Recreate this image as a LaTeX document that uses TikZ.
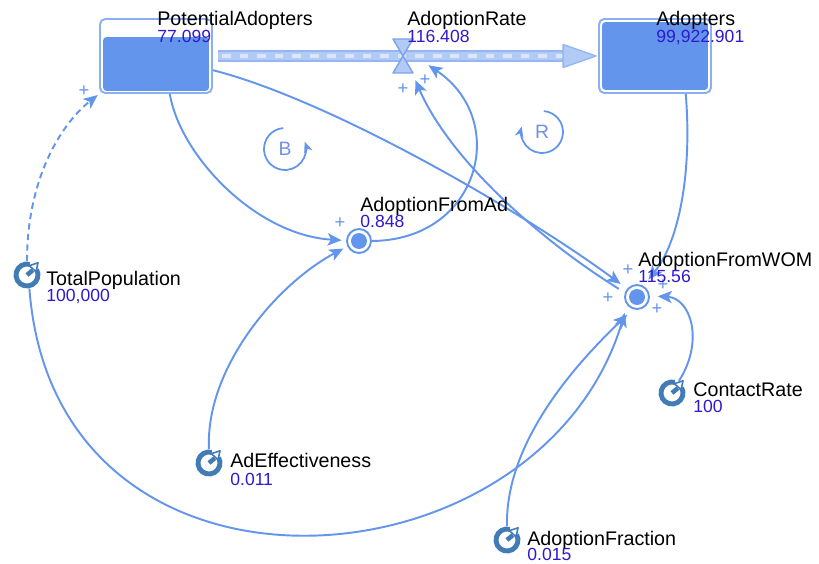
\documentclass[tikz,border=0pt]{standalone}
\usepackage{fontspec}
\setmainfont{Liberation Sans}
\usetikzlibrary{arrows.meta,positioning,calc}
\definecolor{linkblue}{RGB}{100,149,237}
\definecolor{stockedge}{RGB}{140,175,242}
\definecolor{pipeedge}{RGB}{150,182,240}
\definecolor{pipefill}{RGB}{178,202,246}
\definecolor{pipedash}{RGB}{220,230,251}
\definecolor{valveedge}{RGB}{125,160,235}
\definecolor{gaugeblue}{RGB}{66,124,182}
\definecolor{valblue}{RGB}{48,24,208}
\definecolor{loopblue}{RGB}{110,145,230}

% constant marker: open ring with a pointer
\newcommand{\gaugeicon}[1]{%
  \draw[gaugeblue, line width=2.8pt] ([shift={(75:0.22cm)}]#1.center) arc[start angle=75, end angle=390, radius=0.22cm];
  \draw[gaugeblue, line width=2.6pt] (#1.center) -- ([shift={(40:0.15cm)}]#1.center);
  \filldraw[fill=white, draw=gaugeblue, line width=0.9pt, line join=round]
    ($(#1.center)+(48:0.33cm)$) -- ($(#1.center)+(48:0.17cm)+(138:0.09cm)$) -- ($(#1.center)+(48:0.17cm)+(-42:0.09cm)$) -- cycle;
}

\begin{document}
\begin{tikzpicture}[x=0.02cm, y=-0.02cm,
  varname/.style={anchor=base west, inner sep=0pt, font=\fontsize{11.2}{12}\selectfont},
  varvalue/.style={anchor=base west, inner sep=0pt, text=valblue, font=\fontsize{10}{11}\selectfont},
  stockbox/.style={rectangle, draw=stockedge, line width=1.1pt, rounded corners=3pt, minimum width=2.24cm, minimum height=1.48cm, inner sep=0pt},
  auxvar/.style={circle, draw=linkblue, line width=1.1pt, minimum size=0.48cm, inner sep=0pt,
    path picture={\fill[linkblue] (path picture bounding box.center) circle[radius=0.16cm];}},
  constmark/.style={circle, minimum size=0.54cm, inner sep=0pt},
  linkarrow/.style={draw=linkblue, line width=1.1pt, -{Stealth[length=8pt,width=7pt,inset=2pt]}},
  polarity/.style={text=linkblue, inner sep=0pt, font=\fontsize{10.5}{10.5}\selectfont},
  loopsym/.style={text=loopblue, inner sep=0pt, font=\fontsize{11}{11}\selectfont},
  loopline/.style={draw=linkblue, line width=1pt, -{Stealth[length=6pt,width=5pt]}}
]
  \useasboundingbox (0,0) rectangle (819,564);

  % stocks
  \node[stockbox] (pot) at (156,56) {};
  \fill[linkblue, rounded corners=2pt] ([shift={(4,-3)}]pot.south west) rectangle ([shift={(-4,19)}]pot.north east);

  \node[stockbox] (adopters) at (655,56) {};
  \fill[linkblue, rounded corners=2pt] ([shift={(4,-4)}]adopters.south west) rectangle ([shift={(-4,4)}]adopters.north east);

  % flow pipe and valve
  \node[circle, minimum size=1.07cm, inner sep=0pt] (rate) at (403,56) {};
  \draw[pipeedge, line width=6.8pt] ([shift={(5,0)}]pot.east) -- ([shift={(-34,0)}]adopters.west);
  \draw[pipefill, line width=4.6pt] ([shift={(5,0)}]pot.east) -- ([shift={(-34,0)}]adopters.west);
  \draw[pipedash, line width=2.2pt, dash pattern=on 5pt off 5pt] ([shift={(9,0)}]pot.east) -- ([shift={(-34,0)}]adopters.west);
  \filldraw[fill=pipefill, draw=pipeedge, line width=0.8pt, line join=round]
    ([shift={(-35,-11.5)}]adopters.west) -- ([shift={(-2,0)}]adopters.west) -- ([shift={(-35,11.5)}]adopters.west) -- cycle;
  \filldraw[fill=pipefill, draw=valveedge, line width=0.8pt, line join=round]
    ([shift={(-10,-17)}]rate.center) -- ([shift={(10,-17)}]rate.center) -- ([shift={(-10,17)}]rate.center) -- ([shift={(10,17)}]rate.center) -- cycle;

  % variables
  \node[auxvar] (fromad) at (359,241) {};
  \node[auxvar] (fromwom) at (637,297) {};

  \node[constmark] (totpop) at (27,275) {};
  \node[constmark] (adeff) at (209,463) {};
  \node[constmark] (adfrac) at (507,540) {};
  \node[constmark] (contact) at (672,393) {};
  \gaugeicon{totpop}
  \gaugeicon{adeff}
  \gaugeicon{adfrac}
  \gaugeicon{contact}

  % links
  \draw[linkarrow, dash pattern=on 3.6pt off 2.4pt, shorten >=1pt] (totpop.north) .. controls (27,180) and (60,125) .. (pot.south west);
  \draw[linkarrow, shorten >=2.5pt] (pot.-70) .. controls (180,155) and (255,235) .. (fromad.178);
  \draw[linkarrow, shorten >=2.5pt] (adeff.north) .. controls (205,370) and (275,285) .. (fromad.205);
  \draw[linkarrow] (fromad.east) .. controls (480,240) and (510,120) .. (rate.-20);
  \draw[linkarrow, shorten <=4pt] (fromwom.160) .. controls (540,240) and (450,160) .. (rate.-63);
  \draw[linkarrow, shorten >=4.5pt] (pot.-14) .. controls (330,100) and (520,210) .. (fromwom.140);
  \draw[linkarrow, shorten >=4.5pt] (adopters.-51) .. controls (692,170) and (680,240) .. (fromwom.60);
  \draw[linkarrow, shorten >=4.5pt] (contact.60) .. controls (705,340) and (690,298) .. (fromwom.5);
  \draw[linkarrow, shorten >=4.5pt] (adfrac.north) .. controls (505,440) and (580,360) .. (fromwom.-108);
  \draw[linkarrow, shorten >=4.5pt] (totpop.-80) .. controls (55,630) and (540,595) .. (fromwom.-140);

  % link polarities
  \node[polarity] (p1) at (84,91) {+};
  \node[polarity] (p2) at (403,89) {+};
  \node[polarity] (p3) at (425,80) {+};
  \node[polarity] (p4) at (340,223) {+};
  \node[polarity] (p5) at (628,270) {+};
  \node[polarity] (p6) at (608,298) {+};
  \node[polarity] (p7) at (657,309) {+};
  \node[polarity] (p8) at (663,285) {+};

  % feedback loops
  \node[loopsym] (loopb) at (285,149) {B};
  \draw[loopline] ([shift={(95:0.42cm)}]loopb.center) arc[start angle=95, end angle=380, radius=0.42cm];
  \node[loopsym] (loopr) at (542,132) {R};
  \draw[loopline] ([shift={(85:0.42cm)}]loopr.center) arc[start angle=85, end angle=-195, radius=0.42cm];

  % names and values
  \node[varname] (potname) at (157,26) {PotentialAdopters};
  \node[varvalue] (potvalue) at (157,43) {77.099};
  \node[varname] (ratename) at (407,26) {AdoptionRate};
  \node[varvalue] (ratevalue) at (407,43) {116.408};
  \node[varname] (adoptname) at (656,26) {Adopters};
  \node[varvalue] (adoptvalue) at (656,43) {99,922.901};
  \node[varname] (fromadname) at (360,212) {AdoptionFromAd};
  \node[varvalue] (fromadvalue) at (360,228) {0.848};
  \node[varname] (fromwomname) at (638,267) {AdoptionFromWOM};
  \node[varvalue] (fromwomvalue) at (638,283) {115.56};
  \node[varname] (totpopname) at (46,286) {TotalPopulation};
  \node[varvalue] (totpopvalue) at (46,302) {100,000};
  \node[varname] (adeffname) at (230,468) {AdEffectiveness};
  \node[varvalue] (adeffvalue) at (230,485) {0.011};
  \node[varname] (adfracname) at (527,545) {AdoptionFraction};
  \node[varvalue] (adfracvalue) at (527,561) {0.015};
  \node[varname] (contactname) at (693,397) {ContactRate};
  \node[varvalue] (contactvalue) at (693,413) {100};

\end{tikzpicture}
\end{document}
